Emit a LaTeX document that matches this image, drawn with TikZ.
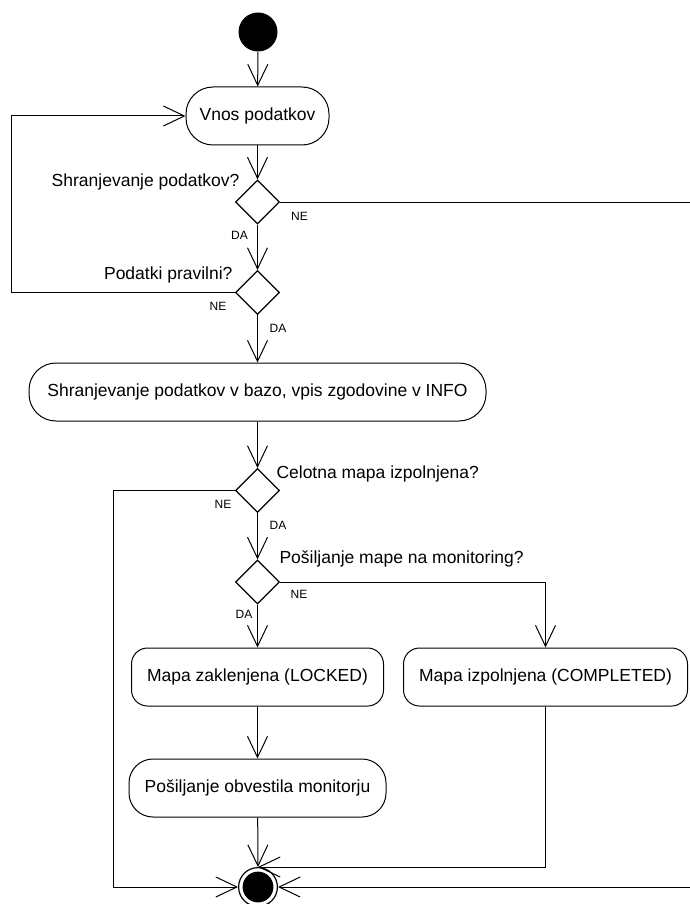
\documentclass[tikz,border=0pt]{standalone}
\usepackage{fontspec}
\setmainfont{Liberation Sans}
\usetikzlibrary{arrows.meta,shapes.geometric}
\begin{document}
\begin{tikzpicture}[x=1pt,y=-1pt,
  line width=1pt,
  flow/.style={-{Straight Barb[length=21pt,width=20pt]}},
  act/.style={draw, rounded corners=#1, minimum height=58pt, inner sep=0pt,
    font=\fontsize{17.5}{20}\selectfont},
  act/.default=26pt,
  dec/.style={draw, diamond, minimum width=44pt, minimum height=44pt,
    inner sep=0pt, line width=1.2pt},
  guard/.style={font=\fontsize{17.5}{20}\selectfont, inner sep=0pt},
  lbl/.style={font=\fontsize{12}{14}\selectfont, inner sep=0pt},
]
\useasboundingbox (0,0) rectangle (690,904);

% initial and final states
\node[circle, fill=black, minimum size=39pt, inner sep=0pt] (start) at (258,32) {};
\node[circle, draw, line width=1.2pt, minimum size=38.8pt, inner sep=0pt] (fin) at (258,887) {};
\fill (fin.center) circle (15.4pt);

% activities
\node[act=27pt, minimum width=143pt] (vnos) at (257.5,116) {Vnos podatkov};
\node[act=27pt, minimum width=457pt] (save) at (257.5,392) {Shranjevanje podatkov v bazo, vpis zgodovine v INFO};
\node[act=16pt, minimum width=252pt] (locked) at (257.5,677) {Mapa zaklenjena (LOCKED)};
\node[act=16pt, minimum width=284pt] (compl) at (545.5,677) {Mapa izpolnjena (COMPLETED)};
\node[act=24pt, minimum width=257pt] (notify) at (257.5,788) {Pošiljanje obvestila monitorju};

% decisions
\node[dec] (d1) at (257.5,202) {};
\node[dec] (d2) at (257.5,292.5) {};
\node[dec] (d3) at (257.5,490.5) {};
\node[dec] (d4) at (257.5,582) {};

% guards
\node[guard, anchor=base east] (g1) at (240,186) {Shranjevanje podatkov?};
\node[guard, anchor=base east] (g2) at (233,279) {Podatki pravilni?};
\node[guard, anchor=base west] (g3) at (276,478) {Celotna mapa izpolnjena?};
\node[guard, anchor=base west] (g4) at (279,563) {Pošiljanje mape na monitoring?};

% branch labels
\node[lbl] (ne1) at (299.5,216) {NE};
\node[lbl] (da1) at (239.5,235) {DA};
\node[lbl] (ne2) at (218,306) {NE};
\node[lbl] (da2) at (278,328) {DA};
\node[lbl] (ne3) at (223,504.5) {NE};
\node[lbl] (da3) at (278,525.5) {DA};
\node[lbl] (ne4) at (299,594) {NE};
\node[lbl] (da4) at (244,614) {DA};

% routing columns for the side branches
\coordinate (loopL) at (11,200);
\coordinate (leftX) at (113,700);
\coordinate (rightX) at (697,500);

% control flow
\draw[flow] (start) -- (vnos);
\draw[flow] (vnos) -- (d1);
\draw[flow] (d1) -- (d2);
\draw[flow] (d2.west) -- (d2.west -| loopL) |- (vnos.west);
\draw[flow] (d2) -- (save);
\draw[flow] (save) -- (d3);
\draw[flow] (d3) -- (d4);
\draw[flow] (d4) -- (locked);
\draw[flow] (d4.east) -| (compl);
\draw[flow] (locked) -- (notify);
\draw[flow] (notify) -- (fin.north);
\draw[flow] (compl) |- (fin.north);
\draw[flow] (d3.west) -- (d3.west -| leftX) |- (fin.west);
\draw[flow] (d1.east) -- (d1.east -| rightX) |- (fin.east);
\end{tikzpicture}
\end{document}
